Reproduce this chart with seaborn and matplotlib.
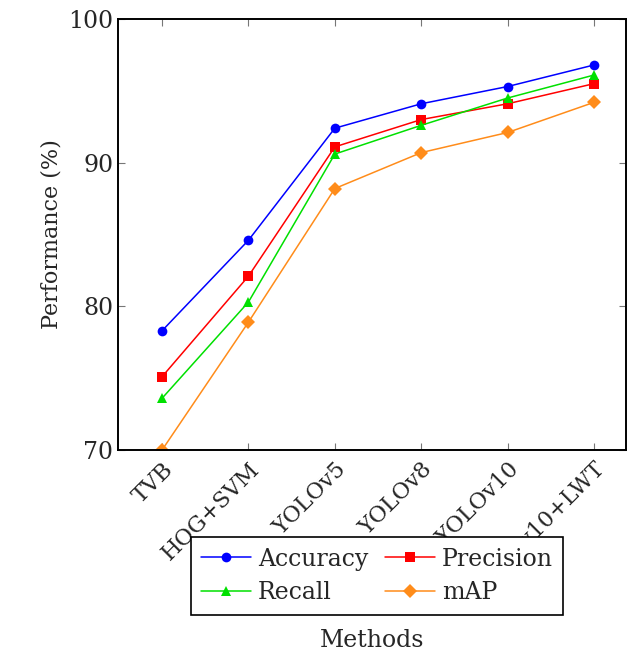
import pandas as pd
import matplotlib.pyplot as plt
import seaborn as sns

methods = ['TVB', 'HOG+SVM', 'YOLOv5', 'YOLOv8', 'YOLOv10', 'YOLOv10+LWT']
accuracy = [78.3, 84.6, 92.4, 94.1, 95.3, 96.8]
precision = [75.1, 82.1, 91.1, 93.0, 94.1, 95.5]
recall = [73.6, 80.3, 90.6, 92.6, 94.5, 96.1]
mAP = [70.0, 78.9, 88.2, 90.7, 92.1, 94.2]

df = pd.DataFrame({'Method': methods * 4,
                   'Metric': ['Accuracy'] * 6 + ['Precision'] * 6 + ['Recall'] * 6 + ['mAP'] * 6,
                   'Value': accuracy + precision + recall + mAP})
df['x'] = list(range(6)) * 4

sns.set_style('ticks')
plt.rcParams['font.family'] = ['DejaVu Serif']

fig = plt.figure(figsize=(6.29, 6.55), dpi=100)
ax = fig.add_axes([118 / 629, 1 - 450 / 655, (626 - 118) / 629, (450 - 19) / 655])

palette = {'Accuracy': '#0000ff', 'Precision': '#ff0000', 'Recall': '#00e000', 'mAP': '#ff8c1a'}
markers = {'Accuracy': 'o', 'Precision': 's', 'Recall': '^', 'mAP': 'D'}

sns.lineplot(data=df, x='x', y='Value', hue='Metric', style='Metric', palette=palette,
             markers=markers, dashes=False, linewidth=1.1, markersize=7,
             markeredgewidth=0, ax=ax)

ax.set_xlim(-0.51, 5.37)
ax.set_ylim(70, 100)
ax.set_yticks([70, 80, 90, 100])
ax.set_xticks(range(6))
ax.set_xticklabels(methods, rotation=45, ha='right', rotation_mode='anchor', fontsize=16)
ax.tick_params(axis='y', labelsize=17)
ax.tick_params(axis='x', pad=6)
ax.tick_params(direction='in', length=5, width=0.8, color='#777777', top=True, right=True)
for s in ax.spines.values():
    s.set_linewidth(1.4)
    s.set_color('black')

ax.set_xlabel('Methods', fontsize=17)
ax.xaxis.set_label_coords(0.5, -0.415)
ax.set_ylabel('Performance (%)', fontsize=16)

handles, labels = ax.get_legend_handles_labels()
order = [0, 2, 1, 3]
ax.legend([handles[i] for i in order], [labels[i] for i in order], ncol=2,
          loc='upper center', bbox_to_anchor=(0.51, -0.202), borderaxespad=0,
          fontsize=17, frameon=True, fancybox=False, edgecolor='black', framealpha=1,
          handlelength=2.1, handletextpad=0.3, columnspacing=0.7,
          borderpad=0.45, labelspacing=0.45)
ax.get_legend().get_frame().set_linewidth(1.2)

fig.savefig('out.png', dpi=100)
